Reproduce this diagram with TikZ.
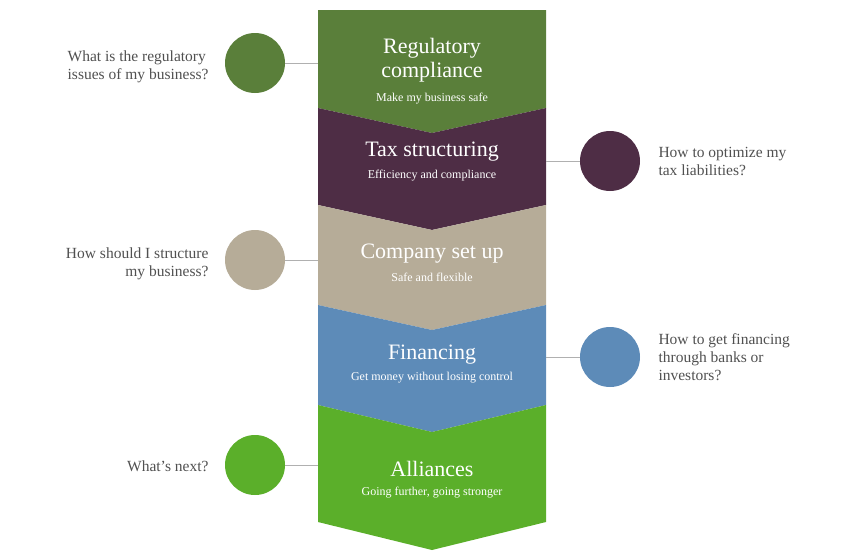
\documentclass[tikz,border=0pt]{standalone}
\usepackage{fontspec}
\setmainfont{Liberation Serif}
\definecolor{cA}{HTML}{5A7F3A}
\definecolor{cB}{HTML}{4E2D45}
\definecolor{cC}{HTML}{B6AC98}
\definecolor{cD}{HTML}{5D8BB8}
\definecolor{cE}{HTML}{5BAF2A}
\definecolor{txt}{HTML}{505050}
\definecolor{ln}{HTML}{B0B0B0}
\begin{document}
\begin{tikzpicture}[x=1pt,y=-1pt,
  dot/.style={circle,minimum size=60pt,inner sep=0pt},
  title/.style={text=white,font=\fontsize{22}{24}\selectfont,align=center},
  sub/.style={text=white,font=\fontsize{12}{13}\selectfont},
  side/.style={text=txt,font=\fontsize{15.5}{18}\selectfont},
  conn/.style={draw=ln,line width=0.8pt}]
\useasboundingbox (0,0) rectangle (849,558);
% segments
\fill[cA] (318,10) -- (546,10) -- (546,108) -- (432,133) -- (318,108) -- cycle;
\fill[cB] (318,108) -- (432,133) -- (546,108) -- (546,205) -- (432,230) -- (318,205) -- cycle;
\fill[cC] (318,205) -- (432,230) -- (546,205) -- (546,305) -- (432,330) -- (318,305) -- cycle;
\fill[cD] (318,305) -- (432,330) -- (546,305) -- (546,405) -- (432,432) -- (318,405) -- cycle;
\fill[cE] (318,405) -- (432,432) -- (546,405) -- (546,522) -- (432,550) -- (318,522) -- cycle;
% titles
\node[title] (t1) at (432,60) {Regulatory\\compliance};
\node[sub] (s1) at (432,99) {Make my business safe};
\node[title] (t2) at (432,152) {Tax structuring};
\node[sub] (s2) at (432,176) {Efficiency and compliance};
\node[title] (t3) at (432,254) {Company set up};
\node[sub] (s3) at (432,277) {Safe and flexible};
\node[title] (t4) at (432,355) {Financing};
\node[sub] (s4) at (432,378) {Get money without losing control};
\node[title] (t5) at (432,469) {Alliances};
\node[sub] (s5) at (432,493) {Going further, going stronger};
% circles
\node[dot,fill=cA] (c1) at (255,63) {};
\node[dot,fill=cB] (c2) at (610,161) {};
\node[dot,fill=cC] (c3) at (255,260) {};
\node[dot,fill=cD] (c4) at (610,357) {};
\node[dot,fill=cE] (c5) at (255,465) {};
\coordinate (e1) at (318,63);
\coordinate (e2) at (546,161);
\coordinate (e3) at (318,260);
\coordinate (e4) at (546,357);
\coordinate (e5) at (318,465);
\draw[conn] (c1) -- (e1);
\draw[conn] (c2) -- (e2);
\draw[conn] (c3) -- (e3);
\draw[conn] (c4) -- (e4);
\draw[conn] (c5) -- (e5);
% side texts
\node[side,anchor=east,align=left] (q1) at (212,67) {What is the regulatory\\issues of my business?};
\node[side,anchor=west,align=left] (q2) at (655,161) {How to optimize my\\tax liabilities?};
\node[side,anchor=east,align=right] (q3) at (212,264) {How should I structure\\my business?};
\node[side,anchor=west,align=left] (q4) at (655,357) {How to get financing\\through banks or\\investors?};
\node[side,anchor=east] (q5) at (212,466) {What’s next?};
\end{tikzpicture}
\end{document}
